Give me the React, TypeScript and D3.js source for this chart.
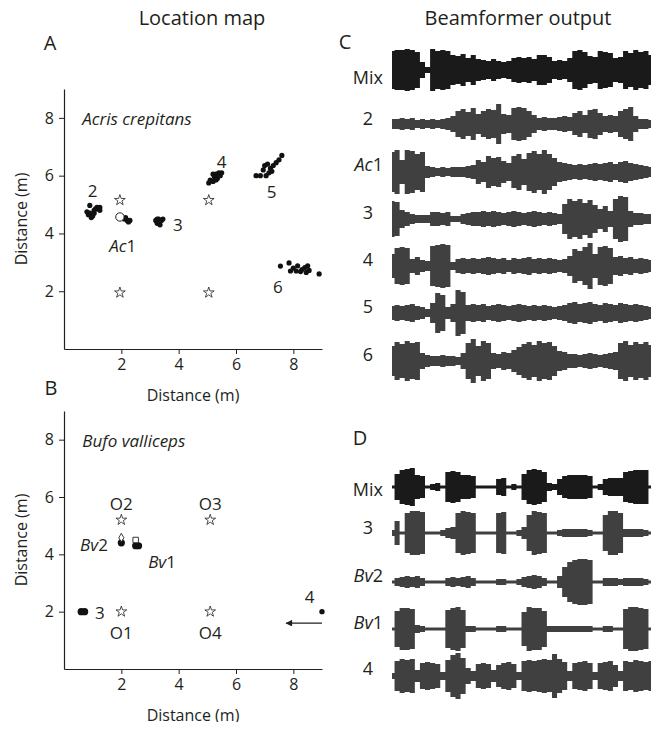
import React, { useEffect, useRef } from "react";
import * as d3 from "d3";

// ---- location map data (metres) ----
const starsA = [[1.95, 5.15], [5.05, 5.15], [1.95, 1.95], [5.05, 1.95]];
const frog2 = [[0.8, 4.75], [0.85, 4.65], [0.9, 4.97], [0.9, 4.7], [0.95, 4.55], [1.0, 4.6], [1.05, 4.8], [1.1, 4.85], [1.15, 4.9], [1.2, 4.85], [1.25, 4.8], [1.25, 4.9], [1.05, 4.7]];
const frogAc1 = [[2.1, 4.5], [2.2, 4.45], [2.25, 4.4], [2.3, 4.45], [2.15, 4.55]];
const frogAc1Est = [1.95, 4.57];
const frog3 = [[3.2, 4.45], [3.25, 4.35], [3.3, 4.5], [3.35, 4.3], [3.4, 4.45], [3.45, 4.5], [3.3, 4.4], [3.25, 4.5]];
const frog4 = [[5.05, 5.75], [5.1, 5.85], [5.2, 5.8], [5.25, 5.95], [5.3, 6.05], [5.35, 5.9], [5.4, 6.1], [5.45, 6.0], [5.5, 6.1], [5.2, 6.05], [5.3, 5.85]];
const frog5 = [[6.7, 6.0], [6.85, 6.0], [7.05, 6.0], [6.95, 6.2], [7.0, 6.35], [7.1, 6.4], [7.2, 6.25], [7.25, 6.15], [7.3, 6.35], [7.4, 6.45], [7.5, 6.55], [7.6, 6.7], [7.15, 6.1]];
const frog6 = [[7.55, 2.87], [7.85, 2.98], [7.9, 2.7], [8.0, 2.8], [8.1, 2.7], [8.15, 2.88], [8.3, 2.75], [8.4, 2.82], [8.45, 2.65], [8.5, 2.88], [8.55, 2.72], [8.25, 2.68], [8.9, 2.6]];
const labelsA = [
  { t: "2", x: 1.0, y: 5.5, it: false },
  { t: "Ac", sub: "1", x: 2.05, y: 3.6, it: true },
  { t: "3", x: 3.97, y: 4.34, it: false },
  { t: "4", x: 5.5, y: 6.5, it: false },
  { t: "5", x: 7.24, y: 5.46, it: false },
  { t: "6", x: 7.46, y: 2.18, it: false },
];

const starsB = [[2.0, 5.2], [5.1, 5.2], [2.0, 2.0], [5.1, 2.0]];
const toadBv2 = [[2.0, 4.4]];
const toadBv1 = [[2.5, 4.3], [2.6, 4.3]];
const toad3 = [[0.6, 2.0], [0.72, 2.0]];
const toad4 = [[9.0, 2.0]];
const estBv2 = [2.0, 4.58];
const estBv1 = [2.5, 4.5];
const labelsB = [
  { t: "O2", x: 2.0, y: 5.8, it: false },
  { t: "O3", x: 5.1, y: 5.8, it: false },
  { t: "O1", x: 2.0, y: 1.28, it: false },
  { t: "O4", x: 5.1, y: 1.28, it: false },
  { t: "Bv", sub: "2", x: 1.53, y: 4.35, it: true, anchor: "end" },
  { t: "Bv", sub: "1", x: 3.42, y: 3.76, it: true },
  { t: "3", x: 1.25, y: 2.0, it: false },
  { t: "4", x: 8.57, y: 2.55, it: false },
];
const arrowB = [[9.0, 1.6], [7.75, 1.6]];

// ---- beamformer output envelopes (half amplitude, 52 bins) ----
const cMix = [19, 20, 20, 21, 20, 18, 8, 3, 21, 19, 20, 19, 15, 14, 16, 12, 15, 11, 10, 9, 11, 9, 8, 9, 12, 13, 12, 13, 11, 15, 15, 13, 9, 10, 9, 12, 19, 20, 18, 14, 13, 19, 18, 17, 12, 13, 19, 17, 20, 18, 19, 15];
const c2 = [5, 5, 6, 5, 6, 4, 5, 4, 5, 4, 5, 6, 8, 13, 15, 12, 16, 10, 13, 15, 14, 20, 10, 9, 16, 17, 16, 13, 9, 6, 7, 6, 6, 7, 8, 7, 11, 13, 9, 14, 15, 11, 8, 9, 8, 13, 15, 17, 8, 5, 5, 4];
const cAc1 = [20, 22, 12, 22, 21, 18, 20, 6, 5, 4, 5, 4, 5, 5, 5, 6, 7, 12, 10, 16, 14, 15, 11, 9, 16, 18, 13, 19, 21, 18, 22, 18, 14, 10, 9, 8, 7, 8, 7, 8, 9, 8, 9, 10, 8, 10, 11, 9, 8, 7, 6, 5];
const c3 = [18, 17, 9, 7, 5, 4, 4, 4, 7, 7, 6, 7, 3, 3, 5, 6, 7, 7, 8, 7, 8, 7, 6, 7, 8, 7, 6, 7, 8, 7, 6, 7, 6, 5, 15, 20, 18, 20, 16, 19, 14, 10, 13, 8, 20, 23, 22, 8, 6, 6, 5, 5];
const c4 = [12, 18, 19, 18, 7, 9, 6, 5, 20, 21, 22, 21, 4, 7, 8, 7, 8, 7, 8, 9, 8, 7, 8, 6, 8, 7, 8, 9, 7, 8, 7, 8, 7, 6, 7, 10, 17, 15, 19, 23, 12, 19, 20, 18, 9, 10, 8, 9, 7, 8, 7, 6];
const c5 = [7, 8, 7, 8, 9, 7, 6, 4, 10, 20, 18, 6, 9, 23, 21, 8, 9, 8, 9, 7, 8, 9, 8, 7, 8, 9, 8, 7, 8, 7, 8, 7, 6, 7, 8, 10, 11, 9, 10, 11, 9, 8, 10, 9, 8, 10, 9, 8, 9, 8, 7, 6];
const c6 = [15, 19, 17, 20, 18, 19, 8, 6, 5, 5, 6, 5, 5, 4, 8, 18, 22, 15, 20, 18, 8, 7, 9, 8, 11, 14, 17, 19, 16, 20, 18, 19, 15, 10, 9, 7, 7, 6, 7, 8, 7, 6, 7, 8, 9, 18, 20, 16, 19, 17, 19, 16];
const dMix = [1.5, 13, 17, 18, 19, 12, 11, 1.5, 3, 4, 1.5, 15, 16, 15, 12, 12, 11, 1.5, 1.5, 1.5, 1.5, 8, 9, 1.5, 3, 1.5, 13, 17, 18, 17, 15, 4, 3, 8, 11, 12, 12, 12, 12, 11, 1.5, 3, 8, 9, 9, 9, 15, 16, 17, 17, 17, 1.5];
const d3row = [3, 12, 1.5, 20, 22, 22, 21, 1.5, 1.5, 1.5, 3, 5, 6, 20, 22, 21, 20, 1.5, 1.5, 1.5, 1.5, 20, 21, 1.5, 1.5, 3, 6, 18, 22, 21, 20, 1.5, 1.5, 3, 4, 4, 4, 4, 4, 3, 1.5, 1.5, 18, 22, 22, 20, 4, 4, 4, 4, 3, 1.5];
const dBv2 = [1.5, 4, 5, 6, 5, 6, 4, 1.5, 1.5, 1.5, 1.5, 4, 5, 4, 5, 6, 4, 1.5, 1.5, 1.5, 1.5, 3, 3, 1.5, 1.5, 3, 5, 6, 7, 6, 4, 1.5, 1.5, 6, 15, 20, 22, 23, 23, 22, 1.5, 1.5, 4, 4, 4, 3, 4, 4, 4, 4, 3, 1.5];
const dBv1 = [1.5, 18, 21, 21, 20, 4, 3, 1.5, 1.5, 1.5, 1.5, 19, 21, 22, 19, 3, 3, 1.5, 1.5, 1.5, 1.5, 3, 3, 1.5, 1.5, 1.5, 17, 22, 21, 21, 18, 3, 3, 3, 3, 3, 3, 3, 3, 3, 1.5, 1.5, 3, 3, 1.5, 1.5, 20, 22, 22, 21, 20, 1.5];
const d4 = [3, 15, 17, 16, 17, 6, 13, 14, 13, 12, 4, 16, 21, 23, 18, 8, 5, 12, 13, 12, 6, 11, 13, 14, 12, 4, 15, 16, 15, 16, 17, 16, 22, 17, 14, 5, 13, 14, 15, 13, 4, 13, 14, 15, 11, 5, 15, 14, 16, 15, 14, 15];

const rowsC = [
  { label: "Mix", it: false, env: cMix, yc: 70, ly: 77, color: "#1a1a1a" },
  { label: "2", it: false, env: c2, yc: 124, ly: 118, color: "#404040" },
  { label: "Ac", sub: "1", it: true, env: cAc1, yc: 172, ly: 164, color: "#404040" },
  { label: "3", it: false, env: c3, yc: 219, ly: 212, color: "#404040" },
  { label: "4", it: false, env: c4, yc: 266, ly: 259, color: "#404040" },
  { label: "5", it: false, env: c5, yc: 313, ly: 306, color: "#404040" },
  { label: "6", it: false, env: c6, yc: 361, ly: 354, color: "#404040" },
];
const rowsD = [
  { label: "Mix", it: false, env: dMix, yc: 487, ly: 489, color: "#1a1a1a" },
  { label: "3", it: false, env: d3row, yc: 533, ly: 527, color: "#404040" },
  { label: "Bv", sub: "2", it: true, env: dBv2, yc: 582, ly: 575, color: "#404040" },
  { label: "Bv", sub: "1", it: true, env: dBv1, yc: 629, ly: 622, color: "#404040" },
  { label: "4", it: false, env: d4, yc: 676, ly: 668, color: "#404040" },
];

const FONT = "'Open Sans', 'Noto Sans', sans-serif";
const INK = "#231f20";

const W = 661;
const H = 730;

const App = () => {
  const ref = useRef<SVGSVGElement>(null);

  useEffect(() => {
    const svg = d3.select(ref.current);
    svg.selectAll("*").remove();

    const text = (g: any, x: number, y: number, t: string, size: number, anchor = "middle", italic = false, sub?: string) => {
      const el = g
        .append("text")
        .attr("x", x)
        .attr("y", y)
        .attr("text-anchor", anchor)
        .attr("dominant-baseline", "central")
        .attr("font-family", FONT)
        .attr("font-size", size)
        .attr("fill", INK);
      el.append("tspan").attr("font-style", italic ? "italic" : "normal").text(t);
      if (sub) el.append("tspan").attr("font-style", "normal").text(sub);
      return el;
    };

    // titles
    text(svg, 202, 17, "Location map", 20);
    text(svg, 518, 17, "Beamformer output", 20);
    text(svg, 50, 42, "A", 20);
    text(svg, 345, 41, "C", 20);
    text(svg, 51, 387, "B", 20);
    text(svg, 360, 437, "D", 20);

    const x = d3.scaleLinear().domain([0, 9]).range([64, 322]);

    const drawMap = (yTop: number, yBottom: number, opts: any) => {
      const y = d3.scaleLinear().domain([0, 9]).range([yBottom, yTop]);
      const g = svg.append("g");

      const ax = g
        .append("g")
        .attr("transform", `translate(0,${yBottom})`)
        .call(d3.axisBottom(x).tickValues([2, 4, 6, 8]).tickSize(5).tickSizeOuter(0).tickPadding(5));
      const ay = g
        .append("g")
        .attr("transform", `translate(${x(0)},0)`)
        .call(d3.axisLeft(y).tickValues([2, 4, 6, 8]).tickSize(5).tickSizeOuter(0).tickPadding(5));
      [ax, ay].forEach((a) => {
        a.select(".domain").attr("stroke", INK).attr("stroke-width", 1.2);
        a.selectAll(".tick line").attr("stroke", INK);
        a.selectAll(".tick text").attr("font-family", FONT).attr("font-size", 16).attr("fill", INK);
      });

      text(g, (x(0) + x(9)) / 2, yBottom + 46, "Distance (m)", 16);
      text(g, 0, 0, "Distance (m)", 16).attr("transform", `translate(21,${(y(0) + y(9)) / 2}) rotate(-90)`);
      text(g, x(0.64), y(8), opts.species, 17, "start", true);

      const star = d3.symbol().type(d3.symbolStar).size(36);
      g.selectAll(null)
        .data(opts.stars)
        .join("path")
        .attr("d", star)
        .attr("transform", (d: any) => `translate(${x(d[0])},${y(d[1])})`)
        .attr("fill", "white")
        .attr("stroke", INK)
        .attr("stroke-width", 0.8);

      opts.points.forEach((p: any) => {
        g.selectAll(null)
          .data(p.data)
          .join("circle")
          .attr("cx", (d: any) => x(d[0]))
          .attr("cy", (d: any) => y(d[1]))
          .attr("r", p.r)
          .attr("fill", "#111");
      });

      opts.labels.forEach((l: any) => {
        text(g, x(l.x), y(l.y), l.t, 17, l.anchor || "middle", l.it, l.sub);
      });
      return { g, y };
    };

    // Panel A
    const A = drawMap(89, 349, {
      species: "Acris crepitans",
      stars: starsA,
      points: [frog2, frogAc1, frog3, frog4, frog5, frog6].map((d) => ({ data: d, r: 2.6 })),
      labels: labelsA,
    });
    A.g.append("circle")
      .attr("cx", x(frogAc1Est[0]))
      .attr("cy", A.y(frogAc1Est[1]))
      .attr("r", 4.2)
      .attr("fill", "white")
      .attr("stroke", INK)
      .attr("stroke-width", 1);

    // Panel B
    const B = drawMap(411, 669, {
      species: "Bufo valliceps",
      stars: starsB,
      points: [
        { data: toadBv2, r: 3.6 },
        { data: toadBv1, r: 3.6 },
        { data: toad3, r: 3.6 },
        { data: toad4, r: 2.7 },
      ],
      labels: labelsB,
    });
    B.g.append("path")
      .attr("d", d3.symbol().type(d3.symbolDiamond).size(22)())
      .attr("transform", `translate(${x(estBv2[0])},${B.y(estBv2[1])})`)
      .attr("fill", "white")
      .attr("stroke", INK)
      .attr("stroke-width", 0.9);
    B.g.append("path")
      .attr("d", d3.symbol().type(d3.symbolSquare).size(30)())
      .attr("transform", `translate(${x(estBv1[0])},${B.y(estBv1[1])})`)
      .attr("fill", "white")
      .attr("stroke", INK)
      .attr("stroke-width", 0.9);
    svg.append("defs")
      .append("marker")
      .attr("id", "ah")
      .attr("viewBox", "0 0 10 10")
      .attr("refX", 9)
      .attr("refY", 5)
      .attr("markerWidth", 9)
      .attr("markerHeight", 6)
      .attr("orient", "auto")
      .append("path")
      .attr("d", "M0,0L10,5L0,10z")
      .attr("fill", INK);
    B.g.append("line")
      .attr("x1", x(arrowB[0][0]))
      .attr("y1", B.y(arrowB[0][1]))
      .attr("x2", x(arrowB[1][0]))
      .attr("y2", B.y(arrowB[1][1]))
      .attr("stroke", INK)
      .attr("stroke-width", 1.1)
      .attr("marker-end", "url(#ah)");

    // Waveforms (envelope per bin)
    const wx = d3.scaleLinear().domain([0, 51]).range([392, 651]);
    const amp = d3.scaleLinear().domain([0, 25]).range([0, 25]);
    const drawRows = (rows: any[]) => {
      rows.forEach((r) => {
        const area = d3
          .area<number>()
          .x((d, i) => wx(i))
          .y0((d) => r.yc + amp(d))
          .y1((d) => r.yc - amp(d))
          .curve(d3.curveStep);
        svg.append("path").attr("d", area(r.env)).attr("fill", r.color);
        const long = r.label.length > 1;
        text(svg, long ? 383 : 368, r.ly, r.label, 18, long ? "end" : "middle", r.it, r.sub);
      });
    };
    drawRows(rowsC);
    drawRows(rowsD);
  }, []);

  return <svg ref={ref} width={W} height={H} style={{ display: "block", margin: "-8px" }}></svg>;
};

export default App;
